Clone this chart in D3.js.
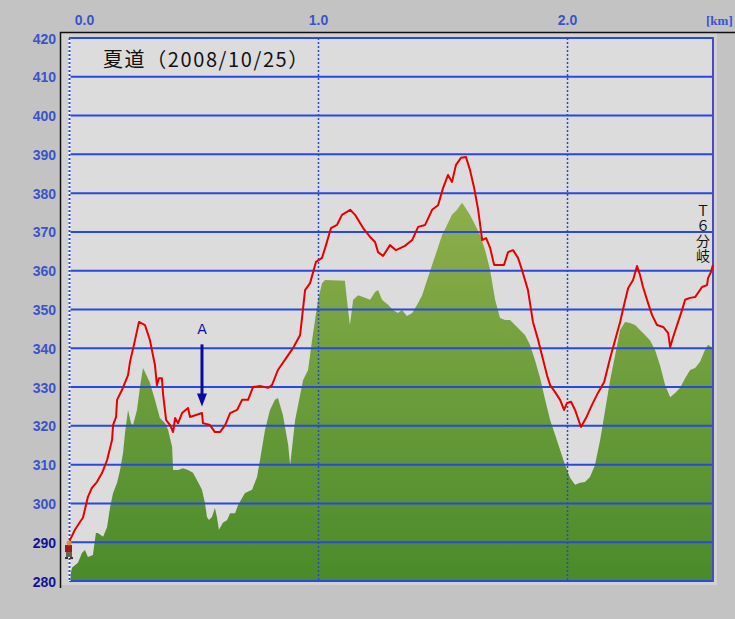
<!DOCTYPE html>
<html><head><meta charset="utf-8">
<script src="https://cdn.jsdelivr.net/npm/d3@7"></script>
<style>html,body{margin:0;padding:0;background:#c0c0c0;overflow:hidden}svg{display:block}</style>
</head><body>
<svg id="c" width="735" height="619"></svg>
<script>
// ---- data ----
const title = "夏道（2008/10/25）";
const yTicks = [280,290,300,310,320,330,340,350,360,370,380,390,400,410,420];
const xTicks = [0,1,2];
const unitLabel = "[km]";
const branchLabel = "Ｔ６分岐";
const markLabel = "A";
const markKm = 0.534;
const markFrom = 341, markTo = 325, markTextAt = 345;

// GPS track (red line)
const trackKm = [0.000,0.004,0.024,0.044,0.056,0.076,0.092,0.112,0.133,0.153,0.173,0.177,0.189,0.193,0.213,0.237,0.245,0.265,0.281,0.305,0.325,0.345,0.353,0.361,0.373,0.378,0.390,0.406,0.418,0.426,0.438,0.454,0.478,0.486,0.534,0.538,0.566,0.586,0.606,0.627,0.647,0.675,0.695,0.719,0.739,0.767,0.799,0.815,0.839,0.867,0.900,0.928,0.948,0.968,0.992,1.016,1.032,1.052,1.076,1.096,1.129,1.149,1.181,1.209,1.229,1.241,1.261,1.289,1.313,1.349,1.378,1.402,1.430,1.458,1.482,1.502,1.522,1.538,1.554,1.574,1.594,1.610,1.627,1.643,1.659,1.675,1.691,1.707,1.747,1.763,1.783,1.803,1.819,1.843,1.863,1.884,1.904,1.920,1.932,1.952,1.972,1.988,2.000,2.016,2.032,2.056,2.076,2.100,2.124,2.149,2.173,2.193,2.213,2.229,2.245,2.265,2.281,2.293,2.305,2.325,2.341,2.361,2.386,2.406,2.414,2.426,2.446,2.462,2.474,2.494,2.514,2.526,2.542,2.562,2.566,2.578,2.586];
const trackAlt = [288.5,290.6,293.2,295.2,296.3,301.7,304.0,305.5,307.9,311.2,316.4,320.2,322.3,326.7,329.3,333.1,336.5,342.1,346.8,346.0,342.1,335.7,330.5,332.3,332.3,328.0,321.5,320.2,318.4,322.0,320.7,323.3,324.6,322.3,323.3,320.7,320.2,318.4,318.4,320.2,323.3,324.1,326.7,326.7,330.0,330.3,329.8,330.5,334.4,337.0,340.1,343.4,355.0,356.8,362.3,363.3,366.6,371.0,371.8,374.4,375.7,374.4,371.0,368.7,367.4,364.8,363.8,366.6,365.3,366.4,367.9,371.3,371.8,375.7,376.9,381.3,384.7,382.9,387.3,389.1,389.3,386.0,381.3,375.7,367.9,368.4,365.9,361.5,361.5,364.8,365.3,363.3,360.2,355.0,346.8,342.1,337.0,332.9,330.5,328.7,326.7,324.1,325.9,326.2,324.1,319.7,322.0,325.4,328.5,331.3,337.5,342.1,346.8,351.2,355.5,357.6,361.2,358.9,355.8,351.7,348.6,346.0,345.5,343.9,340.3,342.9,346.8,349.9,352.5,353.0,353.2,354.3,355.8,356.3,358.1,359.7,361.5];

// terrain profile (green area)
const groundKm = [0.000,0.004,0.012,0.036,0.052,0.064,0.076,0.096,0.108,0.116,0.137,0.153,0.165,0.177,0.193,0.205,0.217,0.225,0.237,0.249,0.257,0.273,0.285,0.297,0.305,0.325,0.345,0.365,0.386,0.398,0.414,0.418,0.438,0.458,0.478,0.498,0.518,0.534,0.546,0.554,0.562,0.574,0.586,0.594,0.602,0.618,0.635,0.647,0.667,0.679,0.695,0.707,0.735,0.755,0.767,0.787,0.807,0.827,0.839,0.859,0.880,0.888,0.908,0.920,0.940,0.960,0.976,0.988,1.000,1.016,1.028,1.108,1.116,1.128,1.141,1.161,1.189,1.209,1.229,1.241,1.257,1.281,1.301,1.321,1.337,1.357,1.378,1.398,1.418,1.438,1.458,1.478,1.498,1.518,1.538,1.558,1.578,1.590,1.610,1.631,1.651,1.671,1.691,1.711,1.731,1.751,1.771,1.791,1.811,1.831,1.851,1.871,1.892,1.912,1.932,1.952,1.972,1.992,2.012,2.032,2.052,2.072,2.092,2.112,2.133,2.153,2.173,2.193,2.213,2.233,2.253,2.273,2.293,2.313,2.333,2.353,2.373,2.394,2.414,2.434,2.454,2.474,2.494,2.514,2.534,2.554,2.566,2.586];
const groundAlt = [281.0,281.0,283.4,284.7,287.2,288.0,286.2,286.7,292.4,292.4,291.4,293.9,299.1,302.7,305.3,308.6,313.0,318.2,324.1,320.7,320.2,324.1,330.0,334.9,333.9,331.1,326.7,322.0,320.7,318.9,314.6,308.6,308.6,309.1,308.6,307.9,305.5,303.5,300.1,296.5,295.7,296.5,298.8,296.5,293.2,295.0,295.7,297.5,297.5,299.6,301.4,302.7,303.5,306.8,311.2,318.9,324.1,326.7,327.2,322.8,315.1,309.9,321.5,325.4,331.8,334.4,342.1,347.3,352.5,356.8,357.6,357.4,352.5,346.0,352.5,353.7,353.0,352.5,354.5,355.0,352.5,351.2,349.9,349.1,349.9,348.3,349.1,351.2,353.7,357.6,361.5,365.3,369.2,371.8,374.4,375.7,377.5,376.4,374.4,371.8,369.2,365.3,360.2,352.5,347.8,347.3,347.3,346.0,344.7,343.4,340.9,337.0,332.3,326.7,321.5,317.7,313.8,309.9,306.6,304.8,305.3,305.5,306.8,309.9,316.4,324.1,331.8,338.3,344.7,346.8,346.5,346.0,344.7,343.4,342.1,339.6,335.7,330.5,327.4,328.5,329.8,332.3,334.4,334.9,336.5,339.6,340.9,340.1];

// ---- layout ----
const L = 69, R = 713, T = 38, B = 581;
const svg = d3.select("#c");
const x = d3.scaleLinear().domain([0, 2.586]).range([L, R]);
const y = d3.scaleLinear().domain([280, 420]).range([B, T]);

// outer panel
svg.append("rect").attr("x",0).attr("y",0).attr("width",735).attr("height",619).attr("fill","#c3c3c3");
svg.append("rect").attr("x",61).attr("y",33).attr("width",656).attr("height",552).attr("fill","#d2d2d2");
svg.append("line").attr("x1",60).attr("x2",735).attr("y1",32.5).attr("y2",32.5).attr("stroke","#111").attr("stroke-width",1.5);
svg.append("line").attr("x1",60.5).attr("x2",60.5).attr("y1",32).attr("y2",588).attr("stroke","#111").attr("stroke-width",1.5);

// plot background
svg.append("rect").attr("x",L).attr("y",T).attr("width",R-L).attr("height",B-T).attr("fill","#dcdcdc");

const defs = svg.append("defs");
const grad = defs.append("linearGradient").attr("id","g").attr("gradientUnits","userSpaceOnUse")
  .attr("x1",0).attr("x2",0).attr("y1",y(380)).attr("y2",y(280));
grad.append("stop").attr("offset",0).attr("stop-color","#8fb04c");
grad.append("stop").attr("offset",1).attr("stop-color","#4a8a2a");
defs.append("clipPath").attr("id","clip").append("rect").attr("x",L).attr("y",T).attr("width",R-L).attr("height",B-T);

const ground = groundKm.map((k,i)=>[k, groundAlt[i]]);
const track = trackKm.map((k,i)=>[k, trackAlt[i]]);

svg.append("path").datum(ground).attr("clip-path","url(#clip)")
  .attr("d", d3.area().x(d=>x(d[0])).y0(B).y1(d=>y(d[1])))
  .attr("fill","url(#g)");

// horizontal grid
svg.append("g").selectAll("line").data(yTicks).join("line")
  .attr("x1",L).attr("x2",R).attr("y1",d=>y(d)).attr("y2",d=>y(d))
  .attr("stroke","#2a48e0").attr("stroke-width",2);

// vertical dotted km lines
svg.append("g").selectAll("line").data(xTicks.filter(d=>d>0)).join("line")
  .attr("x1",d=>Math.round(x(d))+0.5).attr("x2",d=>Math.round(x(d))+0.5).attr("y1",T).attr("y2",B)
  .attr("stroke","#2a48c8").attr("stroke-width",1.5).attr("stroke-dasharray","2,2");

// left dotted edge, right edge
svg.append("line").attr("x1",L+0.5).attr("x2",L+0.5).attr("y1",T).attr("y2",B).attr("stroke","#ffffff").attr("stroke-width",2);
svg.append("line").attr("x1",L+0.5).attr("x2",L+0.5).attr("y1",T).attr("y2",B).attr("stroke","#2a48d8").attr("stroke-width",2).attr("stroke-dasharray","2,2");
svg.append("line").attr("x1",R).attr("x2",R).attr("y1",T-1).attr("y2",B+1).attr("stroke","#4a4ac8").attr("stroke-width",2);

// red track
svg.append("path").datum(track)
  .attr("d", d3.line().x(d=>x(d[0])).y(d=>y(d[1])))
  .attr("fill","none").attr("stroke","#e80000").attr("stroke-width",2).attr("stroke-linejoin","round");

// axes
const yAx = svg.append("g").attr("transform",`translate(56,0)`)
  .call(d3.axisLeft(y).tickValues(yTicks).tickSize(0).tickPadding(0).tickFormat(d3.format("d")));
yAx.select(".domain").remove();
yAx.selectAll("text").attr("font-family","Liberation Sans, Arial, sans-serif").attr("font-size",14)
  .attr("font-weight","bold").attr("fill",d=>d<=290?"#12129a":"#3a54c8").attr("dy","0.36em");

const xAx = svg.append("g").attr("transform",`translate(0,25)`)
  .call(d3.axisTop(x).tickValues(xTicks).tickSize(0).tickPadding(0).tickFormat(d3.format(".1f")));
xAx.select(".domain").remove();
xAx.selectAll("text").attr("font-family","Liberation Sans, Arial, sans-serif").attr("font-size",14)
  .attr("font-weight","bold").attr("fill","#3a54c8").attr("dx",d=>d===0?15:0);
svg.append("text").attr("x",706).attr("y",25).text(unitLabel)
  .attr("font-family","Liberation Serif, serif").attr("font-size",13).attr("font-weight","bold").attr("fill","#3a54c8");

// title
svg.append("text").attr("x",103).attr("y",67).text(title)
  .attr("font-family","Noto Sans CJK JP, sans-serif").attr("font-size",20).attr("letter-spacing","1.6px").attr("fill","#111");

// branch label (vertical)
svg.append("text").attr("x",703).attr("y",204).text(branchLabel)
  .attr("writing-mode","vertical-rl").attr("style","writing-mode:vertical-rl;text-orientation:upright")
  .attr("letter-spacing","1px")
  .attr("font-family","Noto Sans CJK JP, sans-serif").attr("font-size",14).attr("fill","#111");

// A marker
const mx = x(markKm);
svg.append("text").attr("x",mx).attr("y",y(markTextAt)).attr("dy","0.36em").attr("text-anchor","middle").text(markLabel)
  .attr("font-family","DejaVu Sans, sans-serif").attr("font-size",14).attr("fill","#0a0aa0");
svg.append("line").attr("x1",mx).attr("x2",mx).attr("y1",y(markFrom)).attr("y2",y(markTo)-10)
  .attr("stroke","#0a0aa0").attr("stroke-width",3);
svg.append("path").attr("d",`M${mx-5},${y(markTo)-13}L${mx+5},${y(markTo)-13}L${mx},${y(markTo)}Z`).attr("fill","#0a0aa0");

// hiker icon at start
const hx = x(trackKm[0]), hy = y(trackAlt[0]);
const hk = svg.append("g").attr("transform",`translate(${hx},${hy})`);
hk.append("rect").attr("x",-4).attr("y",-3).attr("width",7).attr("height",7).attr("fill","#a01818");
hk.append("circle").attr("cx",0).attr("cy",-5).attr("r",2.5).attr("fill","#e09040");
hk.append("rect").attr("x",-3).attr("y",4).attr("width",6).attr("height",5).attr("fill","#6a6050");
hk.append("rect").attr("x",-4).attr("y",9).attr("width",3).attr("height",2).attr("fill","#333");
hk.append("rect").attr("x",1).attr("y",9).attr("width",3).attr("height",2).attr("fill","#333");
</script>
</body></html>
